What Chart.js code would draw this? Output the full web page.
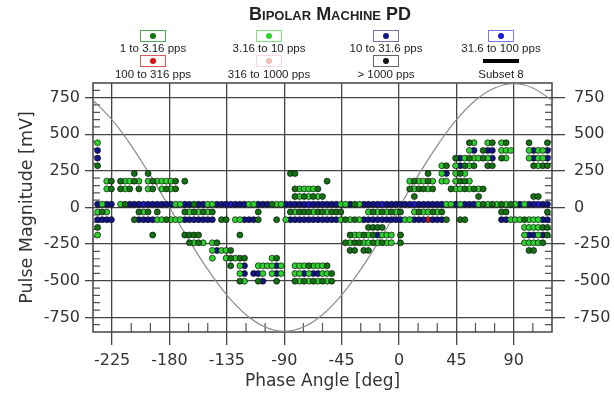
<!DOCTYPE html>
<html>
<head>
<meta charset="utf-8">
<script src="https://cdn.jsdelivr.net/npm/chart.js@4.4.1/dist/chart.umd.min.js"></script>
<style>
html,body{margin:0;padding:0;background:#fff;}
#wrap{position:relative;width:614px;height:393px;overflow:hidden;background:#fff;}
#c{position:absolute;left:0;top:0;}
#title{position:absolute;left:200px;width:260px;top:4px;line-height:20px;text-align:center;
  font-family:"Liberation Sans",Arial,sans-serif;font-weight:bold;font-variant:small-caps;font-size:18px;color:#222;}
.lg-box{position:absolute;width:26px;height:12px;box-sizing:border-box;border:1px solid #888;background:#fff;}
.lg-dot{position:absolute;left:50%;top:50%;width:6px;height:6px;margin:-3px 0 0 -3px;border-radius:50%;}
.lg-bar{position:absolute;width:36px;height:4px;background:#000;}
.lg-txt{position:absolute;width:120px;text-align:center;font-family:"Liberation Sans",Arial,sans-serif;
  font-size:11.5px;line-height:13px;color:#222;white-space:nowrap;}
</style>
</head>
<body>
<div id="wrap">
  <canvas id="c" width="614" height="393"></canvas>
  <div id="title">Bipolar Machine PD</div>
  <div id="legend"></div>
</div>
<script>
// ---------------- data ----------------
const chartTitle = 'Bipolar Machine PD';
const xAxisTitle = 'Phase Angle [deg]';
const yAxisTitle = 'Pulse Magnitude [mV]';

const xTickValues = [-225, -180, -135, -90, -45, 0, 45, 90];
const yTickValues = [-750, -500, -250, 0, 250, 500, 750];
const xMinorTickValues = [-210, -195, -165, -150, -120, -105, -75, -60, -30, -15, 15, 30, 60, 75, 105];
const yMinorTickValues = [-800, -700, -650, -600, -550, -450, -400, -350, -300, -200, -150, -100, -50,
                          50, 100, 150, 200, 300, 350, 400, 450, 550, 600, 650, 700, 800];

const seriesLabels = ['1 to 3.16 pps', '3.16 to 10 pps', '10 to 31.6 pps', '31.6 to 100 pps',
                      '100 to 316 pps', '316 to 1000 pps', '> 1000 pps'];
const seriesCodes  = ['g', 'G', 'b', 'B', 'r', 'p', 'k'];
const seriesColors = ['#137213', '#30d030', '#15158a', '#1c1cd8', '#d41414', '#f6bcbc', '#111111'];
const legendBoxBorders = ['#4fa84f', '#7ee07e', '#7474b0', '#7a7ae0', '#d85a5a', '#f8d8d8', '#666666'];

// phase bins (deg): bin n is centred at phaseBinStart + n * phaseBinWidth
const phaseBinStart = -240;
const phaseBinWidth = 3.6;

// magnitude rows (mV) of the pulse-height histogram
const magnitudeLevels = [442, 390, 337, 285, 232, 180, 127, 75, 22, -31, -83, -136, -188, -241, -293, -346, -398, -451, -503];

// dots per row: "firstBin:codes" (one code per consecutive bin)
const dotRows = [
  ['1:G', '82:gG', '86:Gg', '89:Gg', '95:g', '99:g'],
  ['1:b', '82:Gb', '85:gbb', '89:GGG', '95:GbGGb'],
  ['1:b', '79:gbGgGGgGb', '89:gG', '95:GbGGb'],
  ['1:g', '76:Gg', '79:GbgGg', '86:gg', '96:gGgg'],
  ['9:g', '12:g', '43:gg', '73:g', '76:Gb', '79:GgG'],
  ['3:Gg', '6:gGGgG', '12:GgGGGGg', '20:g', '51:g', '69:GgGGgG', '76:GG', '79:GggG'],
  ['3:Gg', '6:gGg', '10:g', '12:Gg', '15:GgGg', '44:gGGGGg', '69:gGggGg', '78:gGGgGgGg'],
  ['44:gGgGgGg', '70:g', '84:g', '96:gg'],
  ['1:bGbb', '6:Gg', '8:bbbBbbbbbb', '18:GG', '20:bbgbb', '25:GG', '27:bbbBbbb', '34:GG', '36:bbbgGG',
   '42:bbbbbBbbbbbb', '54:GGbgG', '59:bbbbBbbbbbbBbbbbbb', '77:GGbGbbb', '84:GgGgGgGgG', '93:bG', '95:bbBbb'],
  ['1:GgG', '10:gGg', '14:g', '20:gGgGgGg', '36:g', '43:gGgggGggGggg', '60:GgGgGgGg', '70:GgGGgGg', '89:gg', '99:g'],
  ['1:bbbb', '9:gbbbb', '14:GGgGGG', '20:bbbbbbb', '28:gg', '31:GGbbbg', '40:g', '42:Gbbbbbbbbbbb',
   '54:GgGgG', '59:bbbbbbbbb', '68:GGbbbrbbb', '77:g', '80:gg', '89:bb', '91:GGGgGGG', '98:bb'],
  ['1:g', '60:gggg', '94:GGGGgg'],
  ['1:G', '13:g', '20:gggg', '32:g', '56:gGGgGgbGGG', '67:g', '94:GbbGbg'],
  ['21:gGgG', '26:Gg', '55:gGggGGgGgGG', '67:g', '94:GGGGg'],
  ['26:GbGGg', '56:gg', '59:gg', '95:gg'],
  ['26:G', '29:GgGgg', '39:Gg'],
  ['30:g', '32:Gb', '36:GGG', '39:GbG', '44:GGGgGGGg'],
  ['32:Gb', '35:bbG', '39:GbG', '44:GGbGbbGGg'],
  ['32:gG', '36:gb', '40:g', '44:gGgGgGgGg']
];

// reference sine (Subset 8), read every 15 deg
const sinePhase = [-240, -225, -210, -195, -180, -165, -150, -135, -120, -105, -90, -75, -60,
                   -45, -30, -15, 0, 15, 30, 45, 60, 75, 90, 105, 120];
const sineMagnitude = [732, 598, 423, 219, 0, -219, -423, -598, -732, -816, -845, -816, -732,
                       -598, -423, -219, 0, 219, 423, 598, 732, 816, 845, 816, 732];

// ---------------- build datasets ----------------
const seriesPoints = seriesCodes.map(() => []);
dotRows.forEach((tokens, r) => {
  const level = magnitudeLevels[r];
  tokens.forEach(tok => {
    const [startStr, codes] = tok.split(':');
    const start = parseInt(startStr, 10);
    for (let j = 0; j < codes.length; j++) {
      const s = seriesCodes.indexOf(codes[j]);
      if (s < 0) continue;
      seriesPoints[s].push({ x: phaseBinStart + (start + j) * phaseBinWidth, y: level });
    }
  });
});

const datasets = seriesLabels.map((label, s) => ({
  type: 'scatter',
  label,
  data: seriesPoints[s],
  backgroundColor: seriesColors[s],
  borderColor: 'rgba(0,0,0,0.7)',
  borderWidth: 0.9,
  pointRadius: 3.0,
  pointHoverRadius: 3.0,
  order: 1
}));
datasets.push({
  type: 'line',
  label: 'Subset 8',
  data: sinePhase.map((x, i) => ({ x, y: sineMagnitude[i] })),
  borderColor: '#8c8c8c',
  borderWidth: 1.2,
  pointRadius: 0,
  cubicInterpolationMode: 'monotone',
  fill: false,
  order: 10
});

// ---------------- legend (HTML) ----------------
const legendCols = [153, 269, 386, 501];
const legendBoxY = [36, 61];
const legendTxtY = [48, 74];
const legendEl = document.getElementById('legend');
const legendItems = seriesLabels.concat(['Subset 8']);
legendItems.forEach((label, i) => {
  const col = i % 4, row = Math.floor(i / 4);
  const cx = legendCols[col];
  if (i < seriesLabels.length) {
    const box = document.createElement('div');
    box.className = 'lg-box';
    box.style.left = (cx - 13) + 'px';
    box.style.top = (legendBoxY[row] - 6) + 'px';
    box.style.borderColor = legendBoxBorders[i];
    const dot = document.createElement('div');
    dot.className = 'lg-dot';
    dot.style.background = seriesColors[i];
    box.appendChild(dot);
    legendEl.appendChild(box);
  } else {
    const bar = document.createElement('div');
    bar.className = 'lg-bar';
    bar.style.left = (cx - 18) + 'px';
    bar.style.top = (legendBoxY[row] - 2) + 'px';
    legendEl.appendChild(bar);
  }
  const t = document.createElement('div');
  t.className = 'lg-txt';
  t.textContent = label;
  t.style.left = (cx - 60) + 'px';
  t.style.top = (legendTxtY[row] - 6.5) + 'px';
  legendEl.appendChild(t);
});

// ---------------- chart ----------------
Chart.defaults.font.family = "'DejaVu Sans', sans-serif";
Chart.defaults.color = '#333';

const frameAndMinor = {
  id: 'frameAndMinor',
  beforeDatasetsDraw(chart) {
    const { ctx, chartArea: a, scales } = chart;
    const x = scales.x, y = scales.y;
    ctx.save();
    ctx.strokeStyle = '#555';
    ctx.lineWidth = 1.2;
    ctx.beginPath();
    xMinorTickValues.forEach(v => {
      const px = x.getPixelForValue(v);
      ctx.moveTo(px, a.bottom); ctx.lineTo(px, a.bottom - 9);
    });
    yMinorTickValues.forEach(v => {
      const py = y.getPixelForValue(v);
      ctx.moveTo(a.left, py); ctx.lineTo(a.left + 7, py);
      ctx.moveTo(a.right, py); ctx.lineTo(a.right - 7, py);
    });
    ctx.stroke();
    ctx.strokeStyle = '#444';
    ctx.lineWidth = 1.5;
    ctx.strokeRect(a.left, a.top, a.right - a.left, a.bottom - a.top);
    ctx.restore();
  }
};

const setTicks = vals => scale => { scale.ticks = vals.map(v => ({ value: v })); };
const gridCommon = { color: '#444', lineWidth: 1.3 };

new Chart(document.getElementById('c'), {
  type: 'scatter',
  data: { datasets },
  options: {
    responsive: false,
    animation: false,
    devicePixelRatio: 1,
    layout: { padding: { top: 83, left: 0, right: 0, bottom: 0 } },
    plugins: { legend: { display: false }, tooltip: { enabled: false }, title: { display: false } },
    scales: {
      x: {
        type: 'linear', position: 'bottom', min: -240, max: 120,
        afterBuildTicks: setTicks(xTickValues),
        afterFit: s => { s.height = 61; },
        grid: Object.assign({ tickLength: 13 }, gridCommon),
        border: { display: false },
        ticks: { font: { size: 16 }, color: '#333', padding: 6, maxRotation: 0, autoSkip: false },
        title: { display: true, text: xAxisTitle, font: { size: 17 }, color: '#333', padding: { top: 0, bottom: 1 } }
      },
      y: {
        type: 'linear', position: 'left', min: -850, max: 850,
        afterBuildTicks: setTicks(yTickValues),
        afterFit: s => { s.width = 93; },
        grid: Object.assign({ tickLength: 8 }, gridCommon),
        border: { display: false },
        ticks: { font: { size: 16 }, color: '#333', padding: 5, autoSkip: false },
        title: { display: true, text: yAxisTitle, font: { size: 17.5 }, color: '#333', padding: { top: 17, bottom: 0 } }
      },
      y2: {
        type: 'linear', position: 'right', min: -850, max: 850,
        afterBuildTicks: setTicks(yTickValues),
        afterFit: s => { s.width = 62; },
        grid: Object.assign({ tickLength: 13, drawOnChartArea: false }, gridCommon),
        border: { display: false },
        ticks: { font: { size: 16 }, color: '#333', padding: 9, autoSkip: false }
      }
    }
  },
  plugins: [frameAndMinor]
});
</script>
</body>
</html>
